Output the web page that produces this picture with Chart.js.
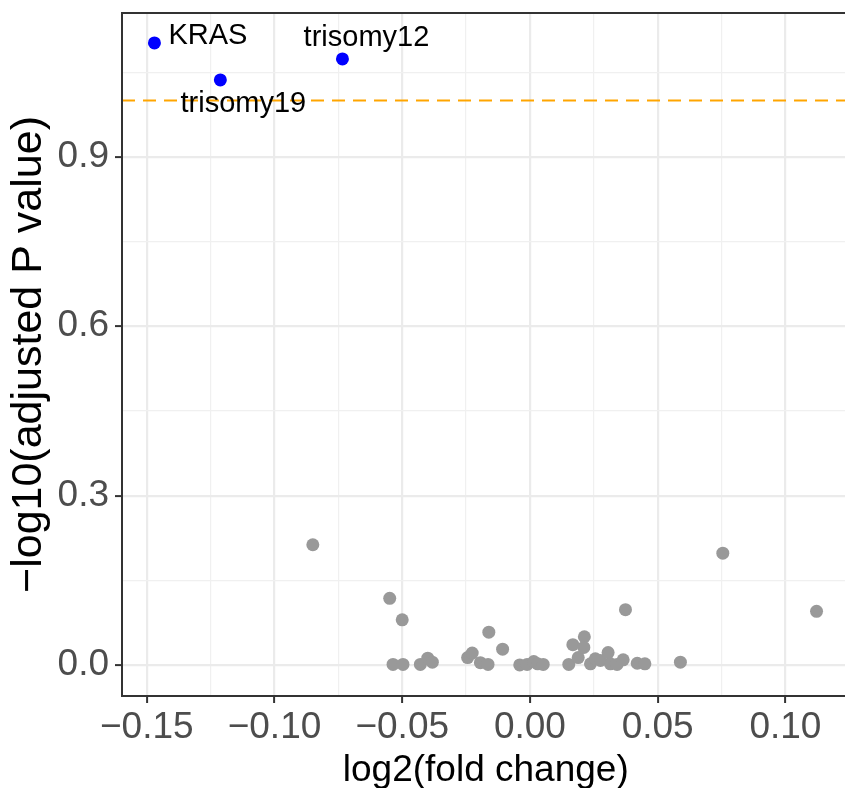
<!DOCTYPE html>
<html>
<head>
<meta charset="utf-8">
<script src="https://cdn.jsdelivr.net/npm/chart.js@4/dist/chart.umd.min.js"></script>
<style>
  html, body { margin: 0; padding: 0; background: #ffffff; overflow: hidden; }
  #wrap { width: 845px; height: 788px; overflow: hidden; }
  canvas { display: block; }
</style>
</head>
<body>
<div id="wrap"><canvas id="c" width="856" height="788"></canvas></div>
<script>
// ---- data ----
const greyX = [-0.0850, -0.0549, -0.0500, -0.0536, -0.0497, -0.0429, -0.0400, -0.0382,
  -0.0244, -0.0226, -0.0194, -0.0164, -0.0161, -0.0107, -0.0040, -0.0011, 0.0015,
  0.0030, 0.0052, 0.0152, 0.0168, 0.0189, 0.0213, 0.0211, 0.0237, 0.0256, 0.0276,
  0.0306, 0.0315, 0.0341, 0.0365, 0.0374, 0.0420, 0.0450, 0.0589, 0.0755, 0.1122];
const greyY = [0.213, 0.118, 0.080, 0.001, 0.001, 0.001, 0.012, 0.005,
  0.013, 0.021, 0.004, 0.001, 0.058, 0.028, 0.000, 0.001, 0.006,
  0.002, 0.001, 0.001, 0.036, 0.013, 0.050, 0.031, 0.002, 0.011, 0.008,
  0.022, 0.002, 0.001, 0.009, 0.098, 0.003, 0.002, 0.005, 0.198, 0.095];

const hitNames = ['KRAS', 'trisomy19', 'trisomy12'];
const hitX = [-0.1470, -0.1212, -0.0734];
const hitY = [1.102, 1.0365, 1.0737];

const xBreaks = [-0.15, -0.10, -0.05, 0.00, 0.05, 0.10];
const yBreaks = [0.0, 0.3, 0.6, 0.9];
const THRESHOLD = 1; // -log10(0.1)

const xTitle = 'log2(fold change)';
const yTitle = '\u2212log10(adjusted P value)';

// ---- styling / layout (not data) ----
const X_MIN = -0.1597, X_MAX = 0.1251;
const Y_MIN = -0.055, Y_MAX = 1.155;
const labelOffsets = { // pixel offsets of repelled labels relative to their point
  'KRAS': { dx: 14, dy: 1, align: 'left' },
  'trisomy19': { dx: 23, dy: 32, align: 'center' },
  'trisomy12': { dx: 24, dy: -13, align: 'center' }
};
const FONT = '"Liberation Sans", Arial, Helvetica, sans-serif';

function withMinor(breaks, lo, hi) {
  const step = breaks[1] - breaks[0];
  const out = breaks.map(v => ({ value: v, minor: false }));
  for (let i = -1; i < breaks.length; i++) {
    const m = breaks[0] + (i + 0.5) * step;
    if (m >= lo && m <= hi) out.push({ value: m, minor: true });
  }
  return out.sort((a, b) => a.value - b.value);
}
function fmt(v, d) {
  const s = Math.abs(v).toFixed(d);
  return (v < -1e-9 ? '\u2212' : '') + s;
}

const greyData = greyX.map((x, i) => ({ x: x, y: greyY[i] }));
const hitData = hitX.map((x, i) => ({ x: x, y: hitY[i], name: hitNames[i] }));

const panelPlugin = {
  id: 'panel',
  beforeDatasetsDraw(chart) {
    const { ctx, chartArea: a, scales } = chart;
    const y = scales.y.getPixelForValue(THRESHOLD);
    ctx.save();
    ctx.beginPath();
    ctx.rect(a.left, a.top, a.right - a.left, a.bottom - a.top);
    ctx.clip();
    ctx.strokeStyle = '#FFA500';
    ctx.lineWidth = 2.2;
    ctx.setLineDash([13, 8]);
    ctx.beginPath();
    ctx.moveTo(a.left, y);
    ctx.lineTo(a.right, y);
    ctx.stroke();
    ctx.restore();
  },
  afterDatasetsDraw(chart) {
    const { ctx, scales } = chart;
    ctx.save();
    ctx.fillStyle = '#000000';
    ctx.font = '29px ' + FONT;
    ctx.textBaseline = 'alphabetic';
    hitData.forEach(p => {
      const o = labelOffsets[p.name];
      const px = scales.x.getPixelForValue(p.x);
      const py = scales.y.getPixelForValue(p.y);
      ctx.textAlign = o.align;
      ctx.fillText(p.name, px + o.dx, py + o.dy);
    });
    ctx.restore();
  },
  afterDraw(chart) {
    const { ctx, chartArea: a } = chart;
    ctx.save();
    ctx.strokeStyle = '#333333';
    ctx.lineWidth = 2;
    ctx.strokeRect(a.left, a.top, a.right - a.left, a.bottom - a.top);
    ctx.restore();
  }
};

const gridOpts = {
  color: c => (c.tick && c.tick.minor) ? '#F0F0F0' : '#EBEBEB',
  lineWidth: c => (c.tick && c.tick.minor) ? 1.2 : 2.2,
  tickColor: c => (c.tick && c.tick.minor) ? 'rgba(0,0,0,0)' : '#333333',
  tickWidth: 2,
  tickLength: 7,
  drawOnChartArea: true,
  drawTicks: true
};

new Chart(document.getElementById('c'), {
  type: 'scatter',
  data: {
    datasets: [
      { data: greyData, backgroundColor: '#999999', borderWidth: 0, pointRadius: 6.5, pointHoverRadius: 6.5 },
      { data: hitData, backgroundColor: '#0000FF', borderWidth: 0, pointRadius: 6.5, pointHoverRadius: 6.5 }
    ]
  },
  options: {
    responsive: false,
    devicePixelRatio: 1,
    animation: false,
    events: [],
    layout: { padding: { top: 13, right: 1, bottom: 0, left: 0 } },
    plugins: { legend: { display: false }, tooltip: { enabled: false } },
    scales: {
      x: {
        type: 'linear',
        min: X_MIN, max: X_MAX,
        border: { display: false },
        grid: gridOpts,
        afterBuildTicks: s => { s.ticks = withMinor(xBreaks, X_MIN, X_MAX); },
        afterFit: s => { s.height = 92; s.paddingLeft = 0; s.paddingRight = 0; s.paddingTop = 0; s.paddingBottom = 0; },
        ticks: {
          autoSkip: false, maxRotation: 0, includeBounds: false,
          color: '#4D4D4D', padding: 3,
          font: { family: FONT, size: 37 },
          callback: (v, i, t) => t[i].minor ? '' : fmt(v, 2)
        },
        title: {
          display: true, text: xTitle, color: '#000000',
          font: { family: FONT, size: 37, lineHeight: 1.0 }, padding: { top: 0, bottom: -1 }
        }
      },
      y: {
        type: 'linear',
        min: Y_MIN, max: Y_MAX,
        border: { display: false },
        grid: gridOpts,
        afterBuildTicks: s => { s.ticks = withMinor(yBreaks, Y_MIN, Y_MAX); },
        afterFit: s => { s.width = 122; s.paddingTop = 0; s.paddingBottom = 0; s.paddingLeft = 0; s.paddingRight = 0; },
        ticks: {
          autoSkip: false, includeBounds: false,
          color: '#4D4D4D', padding: 6,
          font: { family: FONT, size: 37 },
          callback: (v, i, t) => t[i].minor ? '' : fmt(v, 1)
        },
        title: {
          display: true, text: yTitle, color: '#000000',
          font: { family: FONT, size: 43, lineHeight: 1.2 }, padding: { top: 3, bottom: 0 }
        }
      }
    }
  },
  plugins: [panelPlugin]
});
</script>
</body>
</html>
